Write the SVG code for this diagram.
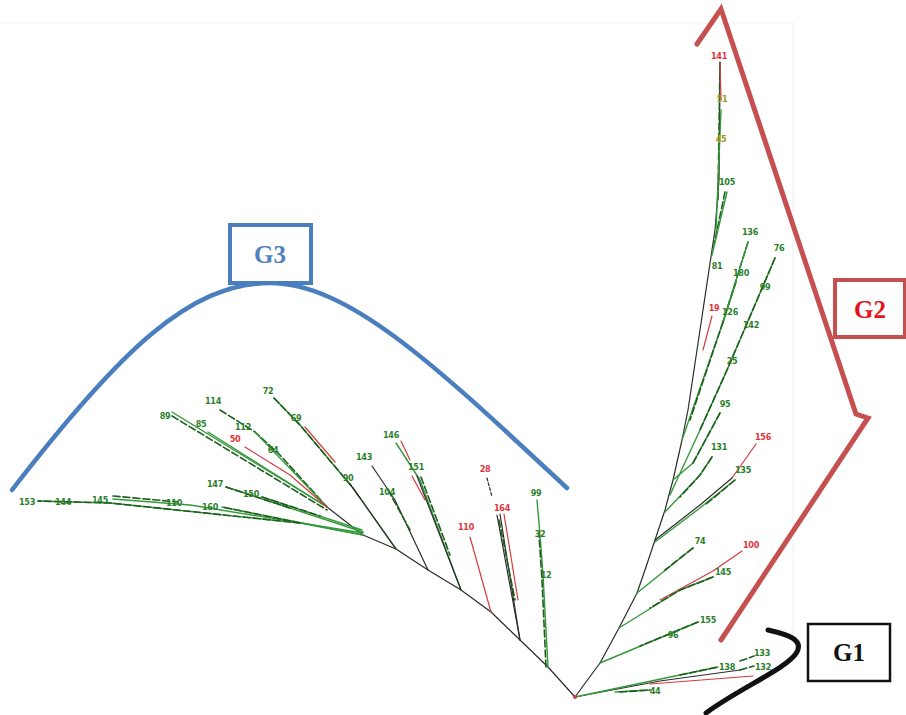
<svg xmlns="http://www.w3.org/2000/svg" width="906" height="715" viewBox="0 0 906 715">
  <style>
    .lbl { font-family: "DejaVu Sans Condensed", "Liberation Sans Narrow", "Liberation Sans", sans-serif; font-size: 9px; font-weight: bold; text-anchor: middle; letter-spacing: -0.3px; }
    .lg { fill: #2b7f2b; }
    .lr { fill: #e3343c; }
    .ly { fill: #9c9a22; }
    .br { fill: none; stroke-linecap: round; stroke-linejoin: round; }
    .k { stroke: #2b2b2b; stroke-width: 1.2; }
    .g { stroke: #33993a; stroke-width: 1.4; }
    .d { stroke: #1d5e1d; stroke-width: 1.6; stroke-dasharray: 7 3; }
    .r { stroke: #d6393e; stroke-width: 1.2; }
    .grp { font-family: "Liberation Serif", "DejaVu Serif", serif; font-size: 25px; font-weight: bold; text-anchor: middle; }
    .frame { fill: none; stroke: #efefef; stroke-width: 1; }
  </style>

  <rect width="906" height="715" fill="#ffffff"/>
  <path class="frame" d="M0,23 H793 V640"/>

  <!-- branches of the tree -->
  <g id="connectors">
    <!-- left subtree backbone -->
    <path class="br k" d="M575,697 L548,667 L520,640 L491,612 L461,590 L428,570 L396,549 L363,535 L327,507" stroke-width="1.5"/>

    <!-- long horizontal branches -->
    <path class="br g" d="M363,535 L300,523 L110,503 L38,501"/>
    <path class="br d" d="M300,523 L110,503 L38,501"/>
    <path class="br g" d="M363,533 L190,505 L113,499"/>
    <path class="br d" d="M113,496 L178,502"/>
    <path class="br g" d="M363,535 L222,507"/>
    <path class="br d" d="M300,523 L222,507"/>
    <path class="br g" d="M363,532 L226,487"/>
    <path class="br d" d="M226,487 L290,508"/>
    <path class="br g" d="M362,530 L262,497"/>
    <path class="br d" d="M262,497 L320,516"/>

    <!-- upper-left fan -->
    <path class="br g" d="M172,412 L327,507"/>
    <path class="br d" d="M172,416 L327,510"/>
    <path class="br g" d="M208,432 L327,507"/>
    <path class="br d" d="M220,410 L255,432 L280,455 L327,507"/>
    <path class="br g" d="M255,432 L327,507"/>
    <path class="br r" d="M245,447 L290,475 L327,507"/>

    <!-- 72 / 69 / 90 -->
    <path class="br g" d="M274,398 L300,425 L353,488 L396,549"/>
    <path class="br d" d="M274,398 L300,425 L353,488"/>
    <path class="br r" d="M305,427 L335,462"/>
    <path class="br k" d="M350,484 L360,498"/>
    <path class="br k" d="M353,488 L396,549"/>

    <!-- 143 / 104 -->
    <path class="br k" d="M372,466 L395,500 L428,570" stroke-width="1.4"/>
    <path class="br d" d="M388,490 L410,530"/>

    <!-- 146 / 151 -->
    <path class="br g" d="M396,443 L420,480 L461,590"/>
    <path class="br r" d="M401,441 L410,460"/>
    <path class="br k" d="M417,476 L461,590"/>
    <path class="br d" d="M421,477 L450,555"/>
    <path class="br r" d="M412,476 L425,500"/>

    <!-- 110 -->
    <path class="br r" d="M470,537 L491,612"/>

    <!-- 28 / 164 -->
    <path class="br k" d="M487,478 L492,497" stroke-width="1.8" stroke-dasharray="3 2"/>
    <path class="br k" d="M497,515 L520,640"/>
    <path class="br k" d="M500,514 L520,640"/>
    <path class="br r" d="M504,514 L518,600"/>
    <path class="br d" d="M499,520 L515,600"/>

    <!-- 99 / 32 / 12 -->
    <path class="br g" d="M548,667 L543,575 L540,535 L537,500"/>
    <path class="br d" d="M546,667 L542,580 L539,535"/>

    <!-- right subtree trunk -->
    <path class="br k" d="M575,697 L600,663 L619,628 L637,593 L645,570 L655,540 L665,510 L673,480 L682,440 L688,410 L700,330 L715,230 L719,180 L720,62" stroke-width="1.3"/>
    <path class="br d" d="M718,200 L720,62"/>
    <path class="br g" d="M716,230 L721,110"/>
    <path class="br r" d="M720,62 L721,100"/>

    <!-- 105 -->
    <path class="br d" d="M725,192 L714,245"/>
    <path class="br g" d="M727,192 L712,255"/>

    <!-- 19 -->
    <path class="br r" d="M712,316 L703,350"/>

    <!-- 136 / 180 / 126 -->
    <path class="br d" d="M748,242 L723,322"/>
    <path class="br d" d="M736,282 L723,322"/>
    <path class="br g" d="M748,242 L723,322 L682,440"/>
    <path class="br d" d="M723,322 L690,420"/>

    <!-- 76 / 99 / 142 / 25 -->
    <path class="br g" d="M775,258 L727,370 L700,430 L670,495"/>
    <path class="br d" d="M775,258 L727,370 L700,430"/>

    <!-- 95 -->
    <path class="br g" d="M720,413 L693,463 L673,480"/>
    <path class="br d" d="M720,413 L693,463"/>

    <!-- 131 -->
    <path class="br g" d="M712,457 L700,475 L665,512"/>
    <path class="br d" d="M712,457 L700,475 L680,497"/>

    <!-- 156 / 135 -->
    <path class="br r" d="M756,444 L732,478" stroke="#b9703a"/>
    <path class="br k" d="M732,478 L700,505 L655,540"/>
    <path class="br g" d="M735,480 L700,508 L655,542"/>
    <path class="br d" d="M735,480 L705,505"/>

    <!-- 74 -->
    <path class="br g" d="M693,548 L637,593"/>
    <path class="br d" d="M693,548 L665,570"/>

    <!-- 100 / 145 -->
    <path class="br r" d="M742,551 L713,571 L660,600"/>
    <path class="br g" d="M713,577 L680,590 L619,628"/>
    <path class="br d" d="M713,577 L680,590 L650,608"/>

    <!-- 155 / 96 -->
    <path class="br g" d="M698,622 L600,663"/>
    <path class="br d" d="M698,622 L640,646"/>

    <!-- 44 / 138 / 133 / 132 -->
    <path class="br k" d="M575,697 L660,681 L740,670"/>
    <path class="br g" d="M575,697 L718,667"/>
    <path class="br d" d="M680,675 L718,667"/>
    <path class="br r" d="M650,684 L753,676"/>
    <path class="br d" d="M740,661 L754,656"/>
    <path class="br d" d="M740,670 L754,666"/>
    <path class="br g" d="M615,692 L650,690"/>
    <path class="br d" d="M620,692 L650,690"/>

    <!-- root -->
    <circle cx="575" cy="697" r="2" fill="#d6393e"/>
  </g>

  <!-- tips, left subtree -->
  <g id="n153"><text class="lbl lg" x="27" y="505">153</text></g>
  <g id="n144"><text class="lbl lg" x="63" y="505">144</text></g>
  <g id="n145a"><text class="lbl lg" x="100" y="503">145</text></g>
  <g id="n110a"><text class="lbl lg" x="174" y="506">110</text></g>
  <g id="n160"><text class="lbl lg" x="210" y="510">160</text></g>
  <g id="n147"><text class="lbl lg" x="215" y="487">147</text></g>
  <g id="n150"><text class="lbl lg" x="251" y="497">150</text></g>
  <g id="n89"><text class="lbl lg" x="165" y="419">89</text></g>
  <g id="n85"><text class="lbl lg" x="201" y="427">85</text></g>
  <g id="n114"><text class="lbl lg" x="213" y="404" fill="#1f4f1f">114</text></g>
  <g id="n112"><text class="lbl lg" x="243" y="430">112</text></g>
  <g id="n50"><text class="lbl lr" x="235" y="442">50</text></g>
  <g id="n64"><text class="lbl lg" x="273" y="453">64</text></g>
  <g id="n72"><text class="lbl lg" x="268" y="394">72</text></g>
  <g id="n69"><text class="lbl lg" x="296" y="421">69</text></g>
  <g id="n90"><text class="lbl lg" x="348" y="481">90</text></g>
  <g id="n143"><text class="lbl lg" x="364" y="460">143</text></g>
  <g id="n104"><text class="lbl lg" x="387" y="495">104</text></g>
  <g id="n146"><text class="lbl lg" x="391" y="438">146</text></g>
  <g id="n151"><text class="lbl lg" x="416" y="470">151</text></g>
  <g id="n28"><text class="lbl lr" x="485" y="472">28</text></g>
  <g id="n110b"><text class="lbl lr" x="466" y="530">110</text></g>
  <g id="n164"><text class="lbl lr" x="502" y="511">164</text></g>
  <g id="n99a"><text class="lbl lg" x="536" y="496">99</text></g>
  <g id="n32"><text class="lbl lg" x="540" y="537">32</text></g>
  <g id="n12"><text class="lbl lg" x="546" y="578">12</text></g>

  <!-- tips, right subtree -->
  <g id="n141"><text class="lbl lr" x="719" y="59">141</text></g>
  <g id="n51"><text class="lbl ly" x="722" y="102">51</text></g>
  <g id="n45"><text class="lbl ly" x="721" y="142">45</text></g>
  <g id="n105"><text class="lbl lg" x="727" y="185">105</text></g>
  <g id="n136"><text class="lbl lg" x="750" y="235">136</text></g>
  <g id="n76"><text class="lbl lg" x="779" y="251">76</text></g>
  <g id="n81"><text class="lbl lg" x="717" y="269">81</text></g>
  <g id="n180"><text class="lbl lg" x="741" y="276">180</text></g>
  <g id="n99b"><text class="lbl lg" x="765" y="290">99</text></g>
  <g id="n19"><text class="lbl lr" x="714" y="311">19</text></g>
  <g id="n126"><text class="lbl lg" x="730" y="315">126</text></g>
  <g id="n142"><text class="lbl lg" x="751" y="328">142</text></g>
  <g id="n25"><text class="lbl lg" x="732" y="364">25</text></g>
  <g id="n95"><text class="lbl lg" x="725" y="407">95</text></g>
  <g id="n156"><text class="lbl lr" x="763" y="440">156</text></g>
  <g id="n131"><text class="lbl lg" x="719" y="450">131</text></g>
  <g id="n135"><text class="lbl lg" x="743" y="473">135</text></g>
  <g id="n74"><text class="lbl lg" x="700" y="544">74</text></g>
  <g id="n100"><text class="lbl lr" x="751" y="548">100</text></g>
  <g id="n145b"><text class="lbl lg" x="723" y="575">145</text></g>
  <g id="n155"><text class="lbl lg" x="708" y="623">155</text></g>
  <g id="n96"><text class="lbl lg" x="673" y="638">96</text></g>
  <g id="n133"><text class="lbl lg" x="762" y="656">133</text></g>
  <g id="n138"><text class="lbl lg" x="727" y="670">138</text></g>
  <g id="n132"><text class="lbl lg" x="763" y="670">132</text></g>
  <g id="n44"><text class="lbl lg" x="655" y="694">44</text></g>

  <!-- group G3: arc and box -->
  <g id="G3">
    <path d="M12,490 C120,350 190,283 270,283 C350,283 440,370 567,488" fill="none" stroke="#4a7ebf" stroke-width="4.5" stroke-linecap="round"/>
    <rect x="230" y="225" width="81" height="58" fill="#ffffff" stroke="#4a7ebf" stroke-width="4"/>
    <text class="grp" x="270" y="263" fill="#4f81bd">G3</text>
  </g>

  <!-- group G2: bracket and box -->
  <g id="G2">
    <path d="M697,44 L721,9 L856,414 L868,418 L721,640" fill="none" stroke="#c4504f" stroke-width="5" stroke-linejoin="miter" stroke-linecap="round"/>
    <rect x="835" y="280" width="70" height="57" fill="#ffffff" stroke="#c4504f" stroke-width="4"/>
    <text class="grp" x="870" y="318" fill="#e3141c">G2</text>
  </g>

  <!-- group G1: bracket and box -->
  <g id="G1">
    <path d="M768,630 C790,635 803,640 797,652 C788,668 740,688 706,713" fill="none" stroke="#111111" stroke-width="5" stroke-linecap="round"/>
    <rect x="808" y="624" width="82" height="57" fill="#ffffff" stroke="#111111" stroke-width="2.5"/>
    <text class="grp" x="849" y="661" fill="#111111">G1</text>
  </g>
</svg>
